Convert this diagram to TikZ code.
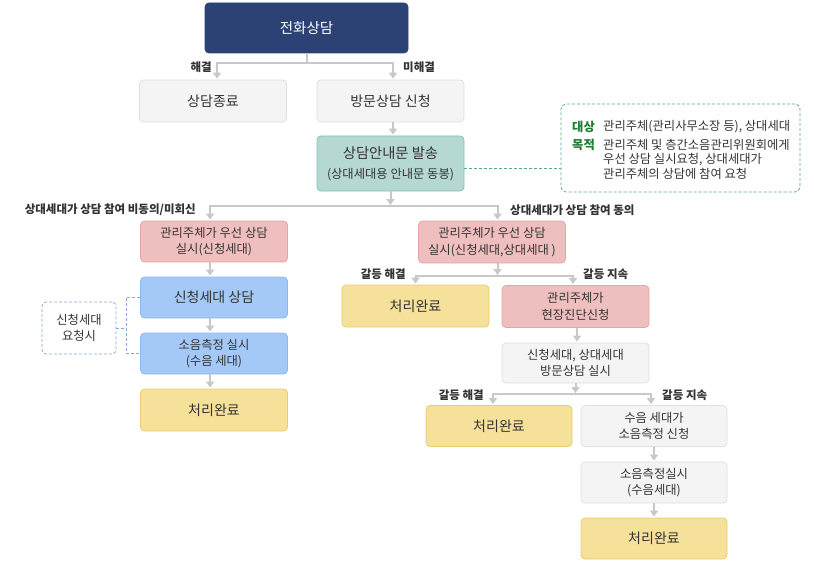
\documentclass[tikz,border=0pt]{standalone}
\usepackage{fontspec}
\setmainfont{Noto Sans CJK KR}
\usetikzlibrary{arrows.meta}
\definecolor{navy}{HTML}{2C4275}
\definecolor{txt}{HTML}{333333}
\definecolor{gfill}{HTML}{F4F4F4}
\definecolor{gline}{HTML}{E0E0E0}
\definecolor{tfill}{HTML}{B6D8D2}
\definecolor{tline}{HTML}{80C4B5}
\definecolor{pfill}{HTML}{EFBEBE}
\definecolor{pline}{HTML}{E4A6A6}
\definecolor{bfill}{HTML}{A4C9F7}
\definecolor{bline}{HTML}{8FB7EF}
\definecolor{yfill}{HTML}{F6E19A}
\definecolor{yline}{HTML}{E9CC74}
\definecolor{lnc}{HTML}{C8C8C8}
\definecolor{infoline}{HTML}{5AA893}
\definecolor{keyc}{HTML}{1E7B32}
\definecolor{reqline}{HTML}{8AA8DD}
\begin{document}
\begin{tikzpicture}[x=1pt,y=-1pt,
  base/.style={draw, rounded corners=4pt, line width=0.8pt, minimum width=147pt, minimum height=41pt, inner sep=0pt, align=center, text=txt},
  big/.style={font=\fontsize{14}{17}\selectfont},
  sm/.style={font=\fontsize{12.3}{16.5}\selectfont},
  graybox/.style={base, fill=gfill, draw=gline},
  tealbox/.style={base, fill=tfill, draw=tline},
  pinkbox/.style={base, fill=pfill, draw=pline},
  bluebox/.style={base, fill=bfill, draw=bline},
  yelbox/.style={base, fill=yfill, draw=yline},
  lbl/.style={inner sep=0pt, text=txt, font=\fontsize{11.5}{13}\selectfont\bfseries},
  conn/.style={draw=lnc, line width=2pt},
  arr/.style={conn, -{Triangle[width=8pt,length=6pt]}, shorten >=1pt},
  dashb/.style={draw=reqline, line width=0.8pt, dash pattern=on 3pt off 2pt},
  infotxt/.style={inner sep=0pt, text=txt, font=\fontsize{12.3}{14.5}\selectfont},
  keytxt/.style={inner sep=0pt, text=keyc, font=\fontsize{12.3}{14.5}\selectfont\bfseries}
]
\useasboundingbox (0,0) rectangle (814,567);

% nodes
\node[base, fill=navy, draw=navy, text=white, minimum width=203pt, minimum height=50pt, font=\fontsize{14.5}{17}\selectfont] (tel) at (306.5,28) {전화상담};
\node[graybox, big, minimum height=42pt] (end) at (213,101) {상담종료};
\node[graybox, big, minimum height=42pt] (visit) at (390.5,101) {방문상담 신청};
\node[tealbox, minimum height=55pt, font=\fontsize{12.3}{20}\selectfont] (guide) at (390.5,163.5) {{\fontsize{14.3}{20}\selectfont 상담안내문 발송}\\(상대세대용 안내문 동봉)};

\node[base, draw=infoline, fill=white, dash pattern=on 3pt off 2pt, rounded corners=5pt, minimum width=239pt, minimum height=88pt] (info) at (680.5,148) {};
\node[keytxt, anchor=west] (k1) at (572,127) {대상};
\node[infotxt, anchor=west] (v1) at (603,127) {관리주체(관리사무소장 등), 상대세대};
\node[keytxt, anchor=west] (k2) at (572,145) {목적};
\node[infotxt, anchor=north west, align=left] (v2) at (603,139) {관리주체 및 층간소음관리위원회에게\\우선 상담 실시요청, 상대세대가\\관리주체의 상담에 참여 요청};

\node[pinkbox, sm] (L1) at (214,241.5) {관리주체가 우선 상담\\실시(신청세대)};
\node[bluebox, big] (L2) at (214,297.5) {신청세대 상담};
\node[bluebox, sm] (L3) at (214,353.5) {소음측정 실시\\(수음 세대)};
\node[yelbox, big, minimum height=42pt] (L4) at (214,410) {처리완료};
\node[base, draw=reqline, fill=white, dash pattern=on 3pt off 2pt, sm, minimum width=74pt, minimum height=52pt] (req) at (79,328) {신청세대\\요청시};

\node[pinkbox, sm, minimum height=42pt] (R1) at (492,242) {관리주체가 우선 상담\\실시(신청세대,상대세대 )};
\node[yelbox, big, minimum height=42pt] (R2a) at (415.5,306) {처리완료};
\node[pinkbox, sm, minimum height=42pt] (R2b) at (575.5,306.5) {관리주체가\\현장진단신청};
\node[graybox, sm, minimum height=40pt] (R3) at (575.5,363) {신청세대, 상대세대\\방문상담 실시};
\node[yelbox, big, minimum width=146pt, minimum height=41pt] (R4a) at (499,426) {처리완료};
\node[graybox, sm, minimum width=146pt, minimum height=41pt] (R4b) at (654,426) {수음 세대가\\소음측정 신청};
\node[graybox, sm, minimum width=146pt, minimum height=41pt] (R5) at (654,482.5) {소음측정실시\\(수음세대)};
\node[yelbox, big, minimum width=146pt, minimum height=41pt] (R6) at (654,538.5) {처리완료};

% labels
\node[lbl, anchor=east] (la1) at (212,67) {해결};
\node[lbl, anchor=west] (la2) at (403,67) {미해결};
\node[lbl, anchor=east] (la3) at (196,209.5) {상대세대가 상담 참여 비동의/미회신};
\node[lbl, anchor=west] (la4) at (510,210) {상대세대가 상담 참여 동의};
\node[lbl, anchor=east] (la5) at (406,274) {갈등 해결};
\node[lbl, anchor=west] (la6) at (583,274) {갈등 지속};
\node[lbl, anchor=east] (la7) at (484,395) {갈등 해결};
\node[lbl, anchor=west] (la8) at (662,395) {갈등 지속};

% split points
\coordinate (s1) at (306.5,63);
\coordinate (s2) at (390.5,206);
\coordinate (s3) at (497.5,276);
\coordinate (s4) at (575.5,394);
\coordinate (bk) at (126,328);

% connectors
\draw[conn] (tel.south) -- (s1);
\draw[arr] (s1) -| ([xshift=4pt]end.north);
\draw[arr] (s1) -| ([xshift=2.5pt]visit.north);
\draw[arr] ([xshift=2.5pt]visit.south) -- ([xshift=2.5pt]guide.north);
\draw[arr] (guide.south) -- (s2);
\draw[arr] (s2) -| ([xshift=-4pt]L1.north);
\draw[arr] (s2) -| ([xshift=5.5pt]R1.north);
\draw[arr] ([xshift=-4pt]L1.south) -- ([xshift=-4pt]L2.north);
\draw[arr] ([xshift=-4pt]L2.south) -- ([xshift=-4pt]L3.north);
\draw[arr] ([xshift=-4pt]L3.south) -- ([xshift=-4pt]L4.north);
\draw[arr] ([xshift=5.5pt]R1.south) -- (s3);
\draw[arr] (s3) -| (R2a.north);
\draw[arr] (s3) -| ([xshift=-2.5pt]R2b.north);
\draw[arr] ([xshift=1.5pt]R2b.south) -- ([xshift=1.5pt]R3.north);
\draw[arr] (R3.south) -- (s4);
\draw[arr] (s4) -| ([xshift=-6pt]R4a.north);
\draw[arr] (s4) -| ([xshift=-3pt]R4b.north);
\draw[arr] (R4b.south) -- (R5.north);
\draw[arr] (R5.south) -- (R6.north);

\draw[draw=infoline, line width=0.8pt, dash pattern=on 3pt off 2pt] ([yshift=-4.5pt]guide.east) -- ([yshift=-4.5pt]guide.east -| info.west);
\draw[dashb] (req.east) -- (bk);
\draw[dashb] (L2.west) -| (bk) |- (L3.west);
\end{tikzpicture}
\end{document}
